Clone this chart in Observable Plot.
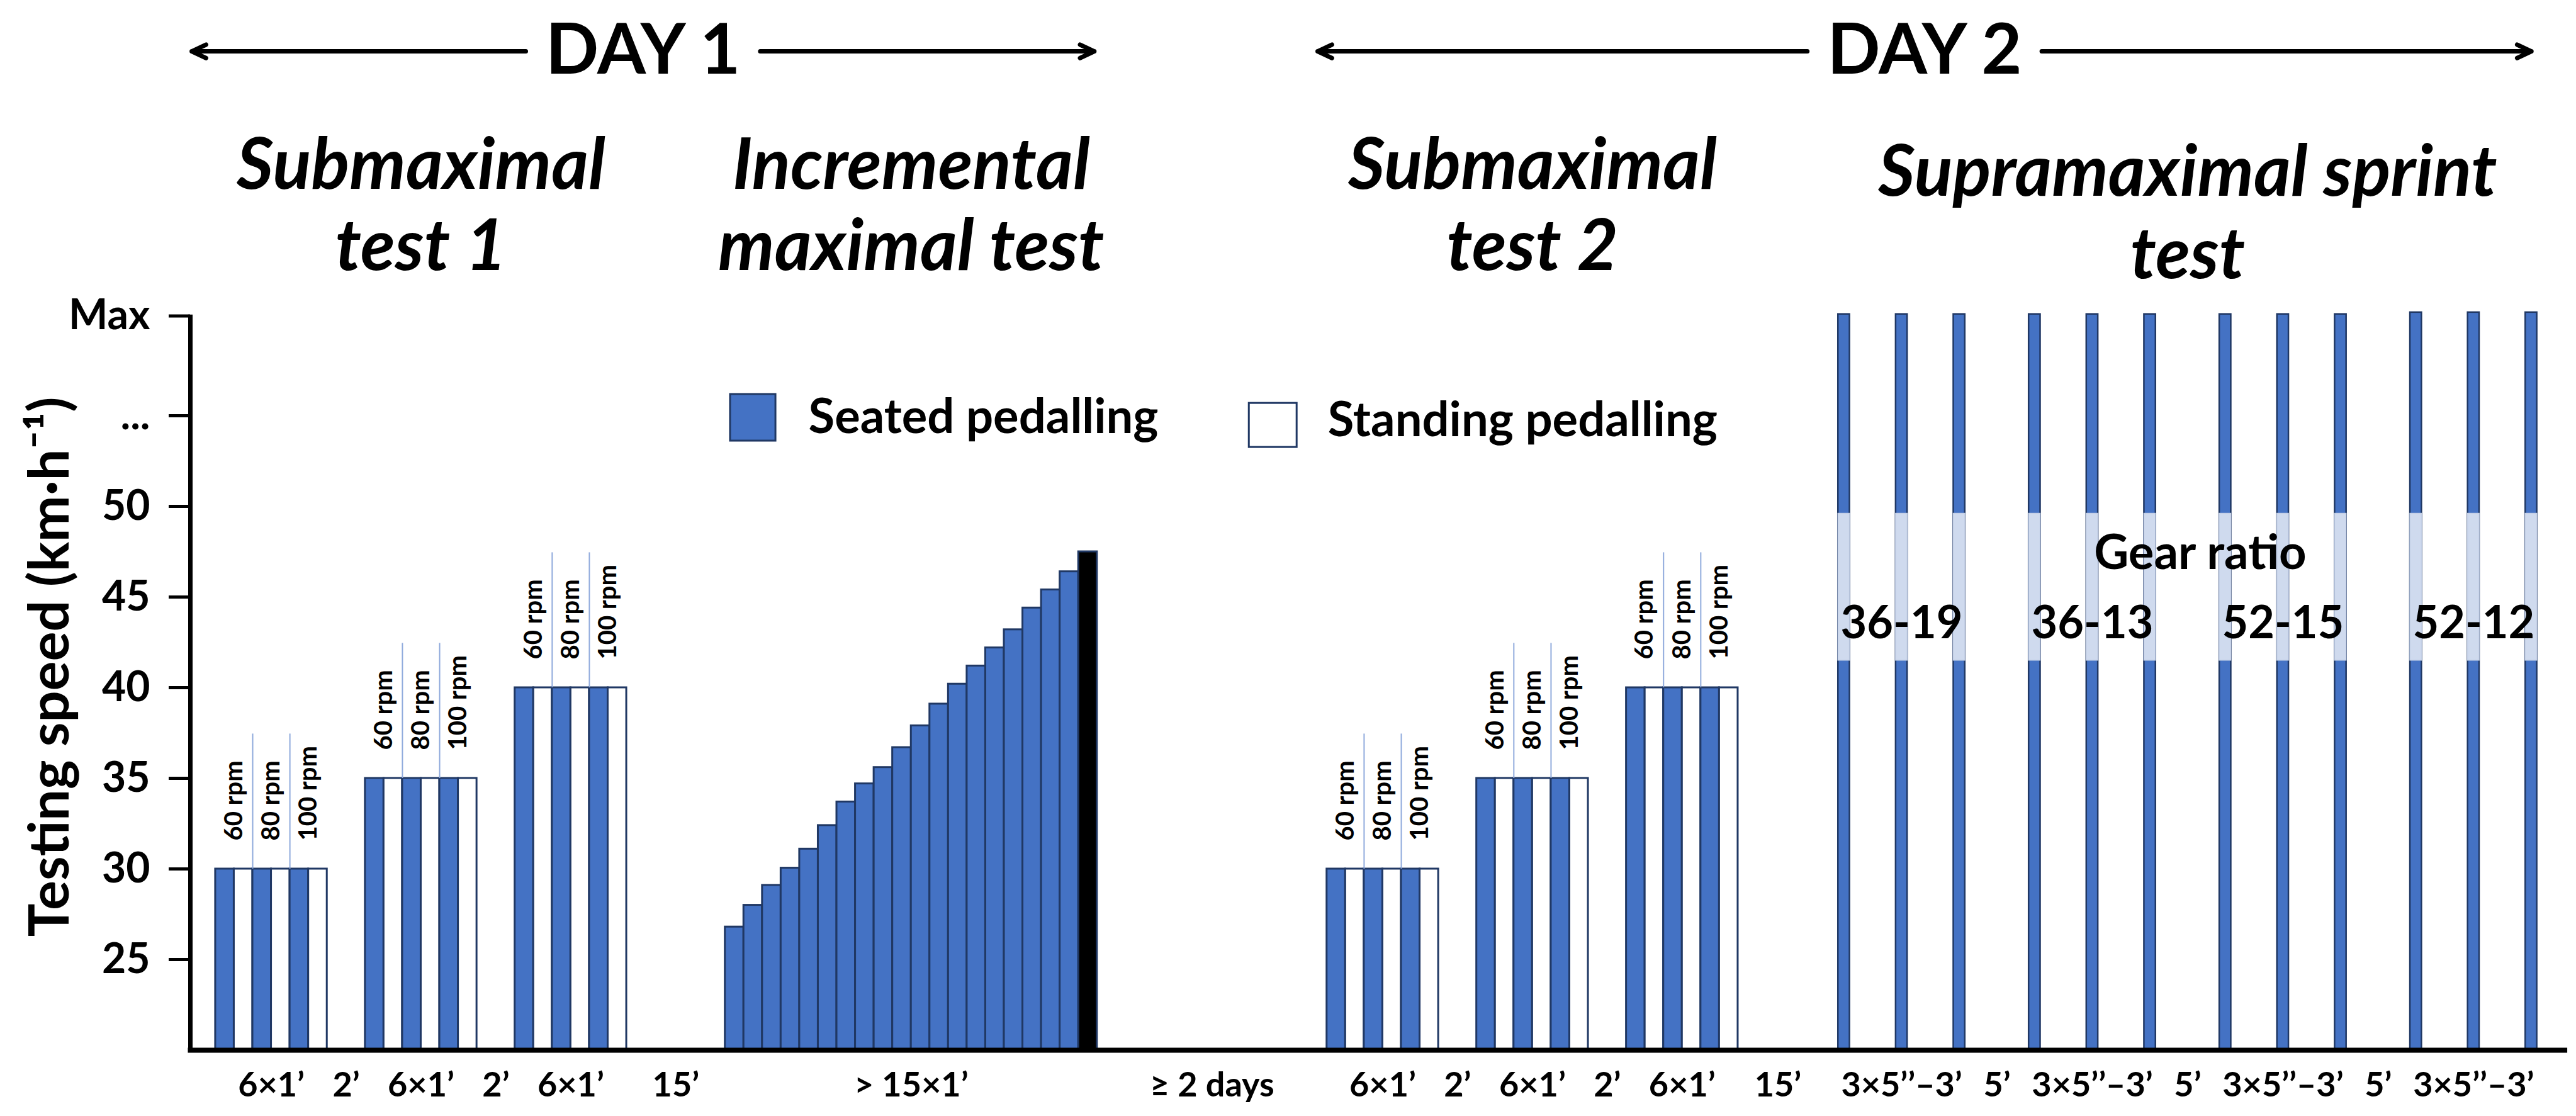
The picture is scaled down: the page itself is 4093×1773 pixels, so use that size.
<!DOCTYPE html>
<html>
<head>
<meta charset="utf-8">
<script src="https://cdn.jsdelivr.net/npm/d3@7"></script>
<script src="https://cdn.jsdelivr.net/npm/@observablehq/plot@0.6"></script>
<style>
  html, body { margin: 0; padding: 0; background: #ffffff; }
  #chart svg { display: block; }
</style>
</head>
<body>
<div id="chart"></div>
<script>
// ---------------- data ----------------
const dayLabels = ["DAY 1", "DAY 2"];
const sectionTitles = [
  ["Submaximal", "test 1"],
  ["Incremental", "maximal test"],
  ["Submaximal", "test 2"],
  ["Supramaximal sprint", "test"]
];
const postures = ["Seated pedalling", "Standing pedalling"];
const cadences = ["60 rpm", "80 rpm", "100 rpm"];
const submaxTest1Speeds = [30, 35, 40];
const submaxTest2Speeds = [30, 35, 40];
const incrementalSpeeds = [26.8, 28.0, 29.1, 30.05, 31.1, 32.4, 33.7, 34.7, 35.6, 36.7,
                           37.9, 39.1, 40.2, 41.2, 42.2, 43.2, 44.4, 45.4, 46.4, 47.5];
const gearRatios = ["36-19", "36-13", "52-15", "52-12"];
const maxLevel = 60.5;
const sprintSpeeds = [
  [60.6, 60.6, 60.6],
  [60.6, 60.6, 60.6],
  [60.6, 60.6, 60.6],
  [60.7, 60.7, 60.7]
];
const gearBand = [41.5, 49.6];
const yTickValues = [25, 30, 35, 40, 45, 50, 55, maxLevel];
const yTickLabels = ["25", "30", "35", "40", "45", "50", "...", "Max"];
const yTitle = "Testing speed (km·h⁻¹)";
const gearTitle = "Gear ratio";
const submaxBoutLabel = "6×1’";
const submaxRestLabel = "2’";
const transitionRestLabel = "15’";
const incrementalLabel = "> 15×1’";
const betweenDaysLabel = "≥ 2 days";
const sprintBoutLabel = "3×5’’–3’";
const sprintRestLabel = "5’";

// ---------------- layout (x in bar-width units) ----------------
const layout = {
  firstGroup: 1.35, groupGap: 2.05, toIncremental: 5.3, betweenDays: 12.35,
  toSprint: 5.7, sprintPitch: 3.1, sprintSetGap: 4.05, sprintBar: 0.62,
  axisEnd: 127.8, rpmLine: 7.45, arrowGap: 6.3
};
const groupPitch = 6 + layout.groupGap;
const sub1Start = layout.firstGroup;
const sub1End = sub1Start + 2 * groupPitch + 6;
const incStart = sub1End + layout.toIncremental;
const incEnd = incStart + incrementalSpeeds.length;
const sub2Start = incEnd + layout.betweenDays;
const sub2End = sub2Start + 2 * groupPitch + 6;
const sprintStart = sub2End + layout.toSprint;
const setPitch = 2 * layout.sprintPitch + layout.sprintSetGap;
const sprintX = (s, b) => sprintStart + s * setPitch + b * layout.sprintPitch;
const sprintEnd = sprintX(3, 2) + layout.sprintBar / 2;

const seatedFill = "#4472c4", standingFill = "#ffffff", edge = "#203864";

// bars
const bars = [], rpmLines = [], rpmTexts = [];
function addSubmax(speeds, start) {
  speeds.forEach((v, g) => {
    const g0 = start + g * groupPitch;
    for (let k = 0; k < 6; k++) {
      bars.push({x1: g0 + k, x2: g0 + k + 1, y: v, fill: k % 2 === 0 ? seatedFill : standingFill});
    }
    [2, 4].forEach(k => rpmLines.push({x: g0 + k, y1: v, y2: v + layout.rpmLine}));
    cadences.forEach((c, i) => rpmTexts.push({x: g0 + 2 * i + 1, y: v, text: c}));
  });
}
addSubmax(submaxTest1Speeds, sub1Start);
addSubmax(submaxTest2Speeds, sub2Start);
incrementalSpeeds.forEach((v, i) => {
  bars.push({x1: incStart + i, x2: incStart + i + 1, y: v,
             fill: i === incrementalSpeeds.length - 1 ? "#000000" : seatedFill});
});
const sprintBars = [];
sprintSpeeds.forEach((set, s) => set.forEach((v, b) => {
  const c = sprintX(s, b);
  sprintBars.push({x1: c - layout.sprintBar / 2, x2: c + layout.sprintBar / 2, y: v});
}));

// bottom labels
const bottomLabels = [];
[sub1Start, sub2Start].forEach(st => {
  for (let g = 0; g < 3; g++) {
    bottomLabels.push({x: st + g * groupPitch + 3, label: submaxBoutLabel});
    if (g < 2) bottomLabels.push({x: st + g * groupPitch + 6 + layout.groupGap / 2, label: submaxRestLabel});
  }
});
bottomLabels.push({x: (sub1End + incStart) / 2, label: transitionRestLabel});
bottomLabels.push({x: (incStart + incEnd) / 2, label: incrementalLabel});
bottomLabels.push({x: (incEnd + sub2Start) / 2, label: betweenDaysLabel});
bottomLabels.push({x: (sub2End + sprintStart) / 2 - 0.7, label: transitionRestLabel});
gearRatios.forEach((g, s) => {
  bottomLabels.push({x: sprintX(s, 1), label: sprintBoutLabel});
  if (s < 3) bottomLabels.push({x: (sprintX(s, 2) + sprintX(s + 1, 0)) / 2, label: sprintRestLabel});
});

// headings
const daySpans = [
  {label: dayLabels[0], a: 0.07, b: incEnd - 0.15},
  {label: dayLabels[1], a: sub2Start - 0.5, b: sprintEnd - 0.3}
];
daySpans.forEach(d => d.c = (d.a + d.b) / 2);
const dayY = 75.1;
const arrows = daySpans.flatMap(d => [
  {x1: d.c - layout.arrowGap, x2: d.a, y: dayY},
  {x1: d.c + layout.arrowGap, x2: d.b, y: dayY}
]);
const sectionSpans = [
  [sub1Start, sub1End, 68.78, 64.31],
  [incStart, incEnd, 68.78, 64.31],
  [sub2Start, sub2End, 68.78, 64.31],
  [sprintStart - layout.sprintBar / 2, sprintEnd, 68.4, 63.85]
];
const titleLines = sectionTitles.flatMap((t, i) => {
  const [a, b, y1, y2] = sectionSpans[i];
  return [{x: (a + b) / 2, y: y1, text: t[0]}, {x: (a + b) / 2, y: y2, text: t[1]}];
});

// legend
const legendSwatches = [
  {x1: 29.03, x2: 31.47, y1: 53.61, y2: 56.18, fill: seatedFill},
  {x1: 56.92, x2: 59.49, y1: 53.26, y2: 55.69, fill: standingFill}
];
const legendTexts = [
  {x: 33.23, y: 54.9, text: postures[0]},
  {x: 61.15, y: 54.72, text: postures[1]}
];

const gearTexts = gearRatios.map((g, s) => ({x: sprintX(s, 1), y: 43.54, text: g}));
const sprintMid = (sprintStart - layout.sprintBar / 2 + sprintEnd) / 2;

const chart = Plot.plot({
  width: 4093,
  height: 1773,
  marginLeft: 302,
  marginRight: 8,
  marginTop: 516,
  marginBottom: 105,
  x: {domain: [0, 128], axis: null},
  y: {domain: [20, 60]},
  style: {fontFamily: "Lato, 'Open Sans', sans-serif", background: "#ffffff", color: "#000000"},
  marks: [
    // submax + incremental bars
    Plot.rect(bars, {x1: "x1", x2: "x2", y1: 20, y2: "y", fill: "fill", stroke: edge, strokeWidth: 3}),
    // sprint bars
    Plot.rect(sprintBars, {x1: "x1", x2: "x2", y1: 20, y2: "y", fill: seatedFill, stroke: edge, strokeWidth: 2.5}),
    Plot.rect(sprintBars, {x1: "x1", x2: "x2", y1: () => gearBand[0], y2: () => gearBand[1], fill: "#cfdaee", stroke: "#c3cfe6", strokeWidth: 1.5}),
    // rpm separators and labels
    Plot.ruleX(rpmLines, {x: "x", y1: "y1", y2: "y2", stroke: "#8faadc", strokeWidth: 2}),
    Plot.text(rpmTexts, {x: "x", y: "y", text: "text", rotate: -90, textAnchor: "start", lineAnchor: "middle",
                         dy: -45, fontSize: 40, fontWeight: "bold"}),
    // axes
    Plot.axisY(yTickValues, {anchor: "left", tickSize: 34, tickPadding: 30, strokeWidth: 5,
                             tickFormat: d => yTickLabels[yTickValues.indexOf(d)],
                             fontSize: 66, fontWeight: "bold", label: null}),
    Plot.ruleX([0], {y1: 20, y2: maxLevel + 0.06, strokeWidth: 7, stroke: "#000"}),
    Plot.ruleY([20], {x1: -0.12, x2: layout.axisEnd, strokeWidth: 8, stroke: "#000"}),
    Plot.text([yTitle], {text: d => d, frameAnchor: "left", y: () => 41.15, dx: -222, rotate: -90,
                         textAnchor: "middle", lineAnchor: "middle", fontSize: 88, fontWeight: "bold"}),
    Plot.text(bottomLabels, {x: "x", text: "label", frameAnchor: "bottom", dy: 56, lineAnchor: "middle",
                             fontSize: 54, fontWeight: "bold"}),
    // gear ratio annotations
    Plot.text([gearTitle], {x: () => sprintMid, y: () => 47.4, text: d => d, dx: 20, lineAnchor: "middle",
                            fontSize: 76, fontWeight: "bold"}),
    Plot.text(gearTexts, {x: "x", y: "y", text: "text", lineAnchor: "middle", fontSize: 72, fontWeight: "bold"}),
    // legend
    Plot.rect(legendSwatches, {x1: "x1", x2: "x2", y1: "y1", y2: "y2", fill: "fill", stroke: edge, strokeWidth: 3}),
    Plot.text(legendTexts, {x: "x", y: "y", text: "text", textAnchor: "start", lineAnchor: "middle",
                            fontSize: 76, fontWeight: "bold"}),
    // headings
    Plot.arrow(arrows, {x1: "x1", x2: "x2", y1: "y", y2: "y", strokeWidth: 7, headLength: 5.4, headAngle: 50, stroke: "#000"}),
    Plot.text(daySpans, {x: "c", y: () => dayY, text: "label", lineAnchor: "middle", fontSize: 111, fontWeight: "bold"}),
    Plot.text(titleLines, {x: "x", y: "y", text: "text", lineAnchor: "middle", fontSize: 113,
                           fontWeight: "bold", fontStyle: "italic"})
  ]
});
document.getElementById("chart").appendChild(chart);
</script>
</body>
</html>
